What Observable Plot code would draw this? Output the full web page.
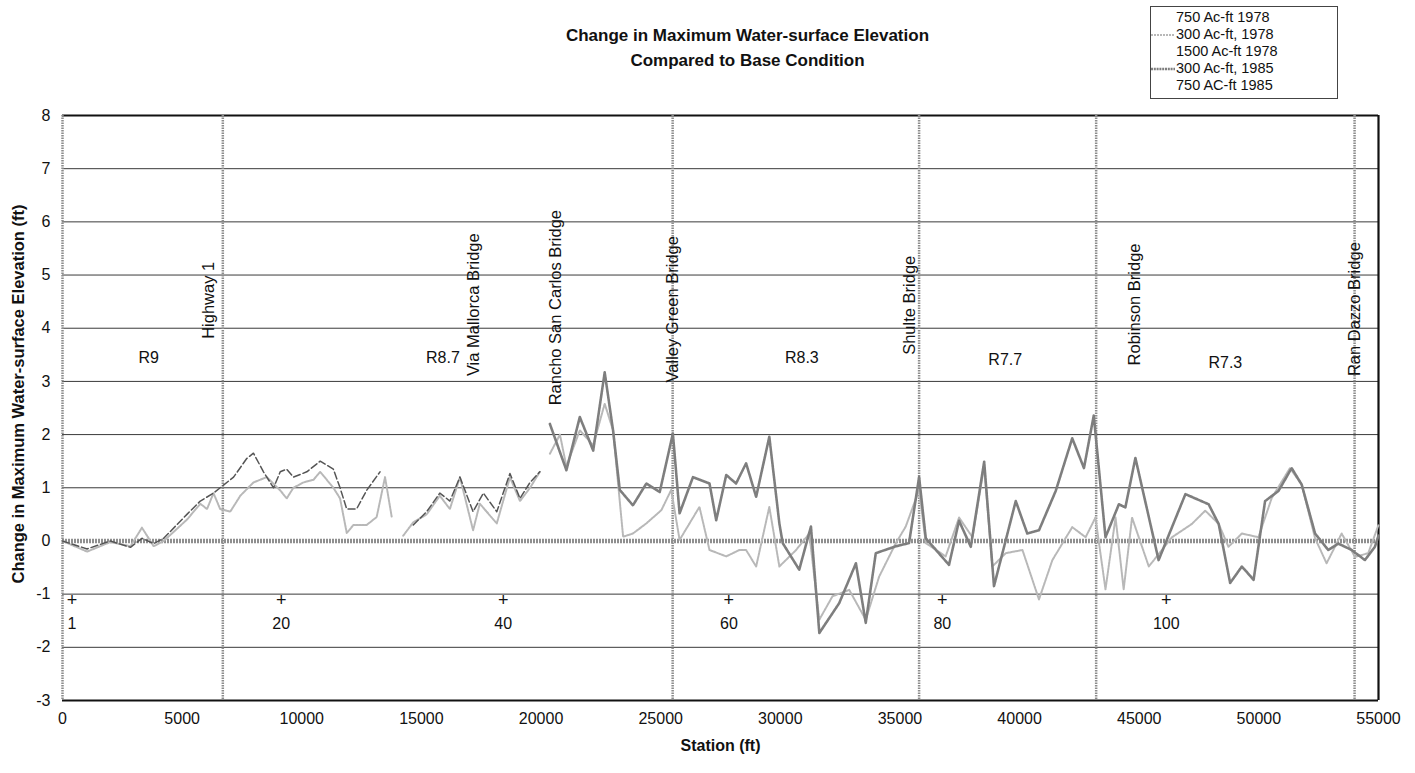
<!DOCTYPE html>
<html><head><meta charset="utf-8">
<script src="https://cdn.jsdelivr.net/npm/d3@7"></script>
<script src="https://cdn.jsdelivr.net/npm/@observablehq/plot@0.6"></script>
<style>
body{margin:0;background:#fff;font-family:"Liberation Sans",Arial,sans-serif;}
#wrap{position:relative;width:1415px;height:773px;}
#title{position:absolute;left:0;width:1495px;top:23px;text-align:center;font-weight:bold;font-size:17px;line-height:25px;color:#111;}
#ytitle{position:absolute;left:-232px;top:384px;width:500px;height:20px;line-height:20px;text-align:center;font-weight:bold;font-size:16.5px;color:#111;transform:rotate(-90deg);transform-origin:50% 50%;}
#legend{position:absolute;left:1150px;top:6px;width:186px;height:91px;border:1px solid #444;background:#fff;font-size:14.5px;color:#111;}
#legend .row{position:absolute;left:0;height:17px;line-height:17px;white-space:nowrap;}
#legend svg{vertical-align:middle;}
g[aria-label="x-axis label"] text{font-weight:bold;font-size:16px;}
</style></head>
<body><div id="wrap"><div id="title">Change in Maximum Water-surface Elevation<br>Compared to Base Condition</div><div id="ytitle"></div><div id="legend"></div></div>
<script>
// ---------- data ----------
const xTicks = [0,5000,10000,15000,20000,25000,30000,35000,40000,45000,50000,55000];
const yTicks = [-3,-2,-1,0,1,2,3,4,5,6,7,8];
const xTitle = "Station (ft)";
const yTitle = "Change in Maximum Water-surface Elevation (ft)";

const seriesNames = ["750 Ac-ft 1978","300 Ac-ft, 1978","1500 Ac-ft 1978","300 Ac-ft, 1985","750 AC-ft 1985"];

// 300 Ac-ft, 1985 (darker gray)
const st1985 = [20370,21060,21620,22180,22660,23010,23290,23840,24400,24960,25510,25790,26350,27040,27320,27740,28150,28570,28990,29540,29960,30100,30790,31280,31630,32460,33160,33570,33990,34830,35380,35800,36080,37050,37470,37960,38520,38930,39840,40320,40810,41510,42200,42690,43100,43590,44150,44420,44840,45810,46930,47900,48320,48800,49290,49780,50260,50820,51370,51790,52350,52900,53320,53880,54430,54850,55000];
const v1985  = [2.2,1.33,2.33,1.7,3.17,2.08,0.96,0.67,1.08,0.92,2.02,0.52,1.2,1.08,0.39,1.24,1.08,1.46,0.83,1.96,0.33,-0.04,-0.54,0.27,-1.73,-1.17,-0.42,-1.54,-0.23,-0.1,-0.04,1.2,0.05,-0.45,0.38,-0.11,1.49,-0.85,0.75,0.14,0.2,0.94,1.93,1.37,2.36,0.07,0.69,0.63,1.56,-0.36,0.88,0.69,0.32,-0.79,-0.48,-0.73,0.75,0.94,1.37,1.06,0.14,-0.17,-0.05,-0.17,-0.36,-0.11,0.1];

// 300 Ac-ft, 1978 (light gray); null = gap
const st1978 = [0,1030,2000,2840,3320,3810,4230,5200,5760,6040,6310,6590,7010,7430,7980,8540,9100,9370,9650,10070,10490,10770,11320,11600,11880,12160,12710,13130,13480,13760,14000,14240,14660,15220,15770,16190,16610,17160,17440,18150,18700,19120,19540,19950,20150,20370,20790,21060,21620,22180,22660,23010,23430,23840,24400,25030,25440,25790,26620,27040,27740,28290,28570,28990,29540,29960,30660,31210,31630,32180,32880,33570,34130,34830,35240,35800,36080,36910,37470,38030,38520,38860,39420,40120,40810,41370,42200,42760,43170,43590,44010,44350,44700,45400,46370,47200,47760,48320,48730,49290,49980,50540,51300,51790,52350,52830,53460,54020,54570,55000];
const v1978  = [0,-0.2,-0.02,-0.1,0.25,-0.1,0,0.4,0.7,0.6,0.9,0.6,0.55,0.85,1.1,1.2,0.95,0.8,1.0,1.1,1.15,1.3,1.0,0.8,0.15,0.3,0.3,0.45,1.2,0.45,null,0.1,0.35,0.5,0.85,0.6,1.2,0.2,0.7,0.33,1.2,0.75,1.0,1.3,null,1.64,2.0,1.4,2.08,1.8,2.58,2.08,0.08,0.14,0.33,0.58,0.96,0.02,0.64,-0.17,-0.29,-0.17,-0.17,-0.48,0.64,-0.48,-0.17,0.14,-1.48,-1.04,-0.92,-1.48,-0.67,-0.04,0.27,0.96,-0.04,-0.29,0.44,0.07,1.4,-0.48,-0.23,-0.17,-1.1,-0.36,0.26,0.07,0.44,-0.91,0.44,-0.91,0.44,-0.48,0.07,0.32,0.57,0.32,-0.11,0.14,0.07,0.81,1.37,1.06,0.05,-0.42,0.14,-0.3,-0.23,0.3];

// 750 Ac-ft 1978 (dark dashed, upper reach)
const st750 = [0,1030,2000,2840,3320,3810,4230,5200,5760,6310,6590,7150,7700,7980,8400,8820,9100,9370,9650,10210,10770,11320,11600,11880,12290,12710,13270,13900,14660,15220,15770,16190,16610,17160,17590,18150,18700,19120,19540,19950];
const v750  = [0,-0.15,0,-0.12,0.05,-0.05,0.05,0.5,0.75,0.9,1.0,1.2,1.55,1.65,1.3,1.0,1.3,1.35,1.2,1.3,1.5,1.35,1.0,0.6,0.6,0.95,1.3,null,0.3,0.55,0.9,0.75,1.2,0.55,0.9,0.55,1.27,0.8,1.1,1.3];

// bridges (vertical lines) and their labels
const bridgeNames    = ["Highway 1","Via Mallorca Bridge","Rancho San Carlos Bridge","Valley Green Bridge","Shulte Bridge","Robinson Bridge","Ran Dazzo Bridge"];
const bridgeLabelX   = [6100,17200,20600,25500,35400,44800,54000];
const bridgeLabelY   = [3.8,3.1,2.55,2.98,3.5,3.3,3.1];
const bridgeLines    = [0,6700,25500,35800,43200,54000];

// reach labels
const reachNames = ["R9","R8.7","R8.3","R7.7","R7.3"];
const reachX     = [3600,15900,30900,39400,48600];
const reachY     = [3.45,3.45,3.45,3.4,3.35];

// cross-section numbers
const xsecNums = ["1","20","40","60","80","100"];
const xsecX    = [400,9140,18420,27850,36770,46130];
const xsecPlusY = -1.12;
const xsecLabelY = -1.55;

// ---------- build tables ----------
const mk = (st, v, s) => st.map((d,i)=>({x:d, y:v[i], s}));
const d1985 = mk(st1985, v1985, seriesNames[3]);
const d1978 = mk(st1978, v1978, seriesNames[1]);
const d750  = mk(st750, v750, seriesNames[0]);
const bridges = bridgeNames.map((n,i)=>({n, x:bridgeLabelX[i], y:bridgeLabelY[i]}));
const reaches = reachNames.map((n,i)=>({n, x:reachX[i], y:reachY[i]}));
const xsecs = xsecNums.map((n,i)=>({n, x:xsecX[i]}));
const gridY = yTicks.filter(d=>d!==0 && d!==8 && d!==-3);

const font = '"Liberation Sans", Arial, sans-serif';
const chart = Plot.plot({
  width:1415, height:773,
  marginLeft:62, marginRight:37, marginTop:115, marginBottom:73,
  style:{fontFamily:font, fontSize:"16px", background:"transparent", color:"#111"},
  x:{domain:[0,55000]},
  y:{domain:[-3,8]},
  marks:[
    Plot.ruleY(gridY, {stroke:"#3a3a3a", strokeWidth:1}),
    Plot.ruleY([8], {stroke:"#111", strokeWidth:2.2}),
    Plot.ruleY([-3], {stroke:"#111", strokeWidth:2.2}),
    Plot.ruleX([55000], {stroke:"#111", strokeWidth:2.2}),
    Plot.ruleX(bridgeLines, {stroke:"#8c8c8c", strokeWidth:2.5, strokeDasharray:"1.5,1"}),
    Plot.ruleY([0], {stroke:"#8f8f8f", strokeWidth:4.5, strokeDasharray:"2,1"}),
    Plot.line(d1978, {x:"x", y:"y", stroke:"#b8b8b8", strokeWidth:2, strokeDasharray:"2,1"}),
    Plot.line(d750, {x:"x", y:"y", stroke:"#555", strokeWidth:1.5, strokeDasharray:"7,3"}),
    Plot.line(d1985, {x:"x", y:"y", stroke:"#7e7e7e", strokeWidth:2.6, strokeDasharray:"2,0.8"}),
    Plot.text(bridges, {x:"x", y:"y", text:"n", rotate:-90, textAnchor:"start", fontSize:16.5, fill:"#111"}),
    Plot.text(reaches, {x:"x", y:"y", text:"n", fontSize:16, fill:"#111"}),
    Plot.text(xsecs, {x:"x", y:xsecPlusY, text:()=>"+", fontSize:18, fill:"#111"}),
    Plot.text(xsecs, {x:"x", y:xsecLabelY, text:"n", fontSize:16, fill:"#111"}),
    Plot.axisX({ticks:xTicks, tickFormat:d=>String(d), tickSize:0, tickPadding:12, fontSize:16,
      label:xTitle, labelAnchor:"center", labelArrow:"none", labelOffset:50}),
    Plot.axisY({ticks:yTicks, tickFormat:d=>String(d), tickSize:0, tickPadding:12, fontSize:16, label:null})
  ]
});
chart.style.position = "absolute";
chart.style.left = "0px";
chart.style.top = "0px";
document.getElementById("wrap").prepend(chart);
document.getElementById("ytitle").textContent = yTitle;

// ---------- legend ----------
const legendSwatch = [null, {stroke:"#b8b8b8", w:2, dash:"2,1"}, null, {stroke:"#7e7e7e", w:2.6, dash:"2,0.8"}, null];
const leg = document.getElementById("legend");
seriesNames.forEach((name,i)=>{
  const row = document.createElement("div");
  row.className = "row";
  row.style.top = (2 + i*17) + "px";
  const sw = legendSwatch[i];
  const svg = `<svg width="24" height="10" style="margin-right:1px">${sw ? `<line x1="0" y1="5" x2="24" y2="5" stroke="${sw.stroke}" stroke-width="${sw.w}" stroke-dasharray="${sw.dash}"/>` : ""}</svg>`;
  row.innerHTML = svg + name;
  leg.appendChild(row);
});
</script>
</body></html>
